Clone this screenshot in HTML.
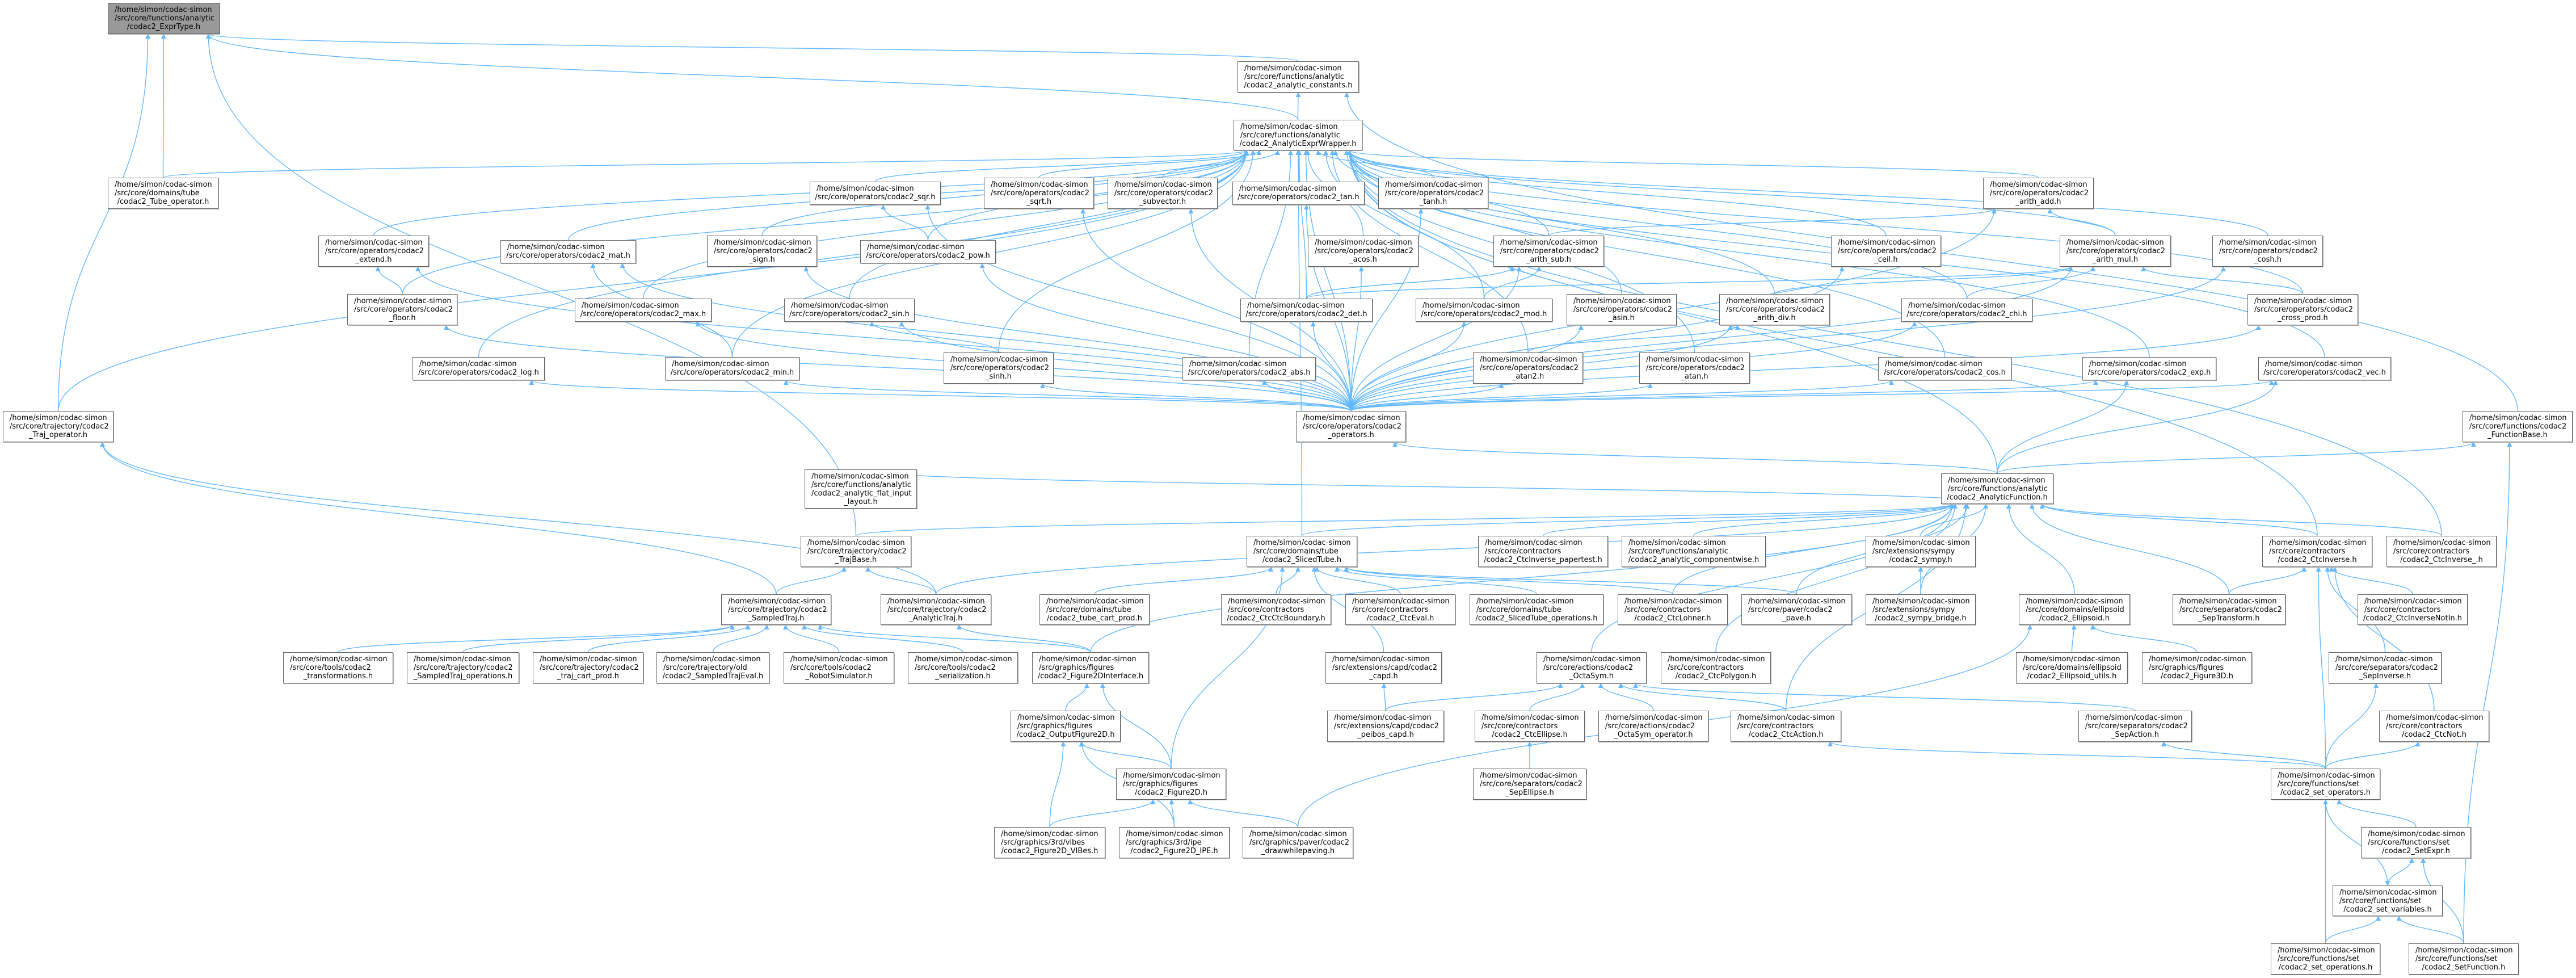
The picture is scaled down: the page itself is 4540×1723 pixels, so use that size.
<!DOCTYPE html>
<html><head><meta charset="utf-8">
<style>
html,body{margin:0;padding:0;background:#fff}
body{width:4540px;height:1723px;position:relative;overflow:hidden}
.n{position:absolute;box-sizing:border-box;border:1px solid #666;background:#fff;font:13px/15px "DejaVu Sans","Liberation Sans",sans-serif;color:#000;padding:4px 0 0 11px;white-space:nowrap;box-shadow:1px 1px 0 #aaa}
.n .c{text-align:center;margin-left:-11px}
.g{background:#999}
svg{position:absolute;left:0;top:0}
</style></head><body>
<svg id="s" width="4540" height="1723"><defs><marker id="a" viewBox="0 0 10 10" refX="9" refY="5" markerWidth="9" markerHeight="9" markerUnits="userSpaceOnUse" orient="auto"><path d="M0,0L10,5L0,10z" fill="#63b8ff"/></marker></defs></svg>

<div class="n g" id="expr" style="left:190px;top:5px;width:197px;height:55px">/home/simon/codac-simon<br>/src/core/functions/analytic<div class="c">/codac2_ExprType.h</div></div>
<div class="n" id="const" style="left:2181px;top:108px;width:214px;height:55px">/home/simon/codac-simon<br>/src/core/functions/analytic<div class="c">/codac2_analytic_constants.h</div></div>
<div class="n" id="wrap" style="left:2174px;top:211px;width:227px;height:54px">/home/simon/codac-simon<br>/src/core/functions/analytic<div class="c">/codac2_AnalyticExprWrapper.h</div></div>
<div class="n" id="tubeop" style="left:190px;top:313px;width:195px;height:55px">/home/simon/codac-simon<br>/src/core/domains/tube<div class="c">/codac2_Tube_operator.h</div></div>
<div class="n" id="sqr" style="left:1427px;top:320px;width:231px;height:41px">/home/simon/codac-simon<div class="c">/src/core/operators/codac2_sqr.h</div></div>
<div class="n" id="sqrt" style="left:1734px;top:313px;width:194px;height:55px">/home/simon/codac-simon<br>/src/core/operators/codac2<div class="c">_sqrt.h</div></div>
<div class="n" id="subvec" style="left:1952px;top:313px;width:194px;height:55px">/home/simon/codac-simon<br>/src/core/operators/codac2<div class="c">_subvector.h</div></div>
<div class="n" id="tan" style="left:2172px;top:320px;width:233px;height:41px">/home/simon/codac-simon<div class="c">/src/core/operators/codac2_tan.h</div></div>
<div class="n" id="tanh" style="left:2429px;top:313px;width:194px;height:55px">/home/simon/codac-simon<br>/src/core/operators/codac2<div class="c">_tanh.h</div></div>
<div class="n" id="add" style="left:3495px;top:313px;width:195px;height:55px">/home/simon/codac-simon<br>/src/core/operators/codac2<div class="c">_arith_add.h</div></div>
<div class="n" id="extend" style="left:561px;top:415px;width:195px;height:55px">/home/simon/codac-simon<br>/src/core/operators/codac2<div class="c">_extend.h</div></div>
<div class="n" id="mat" style="left:882px;top:423px;width:239px;height:41px">/home/simon/codac-simon<div class="c">/src/core/operators/codac2_mat.h</div></div>
<div class="n" id="sign" style="left:1246px;top:415px;width:194px;height:55px">/home/simon/codac-simon<br>/src/core/operators/codac2<div class="c">_sign.h</div></div>
<div class="n" id="pow" style="left:1516px;top:423px;width:239px;height:41px">/home/simon/codac-simon<div class="c">/src/core/operators/codac2_pow.h</div></div>
<div class="n" id="acos" style="left:2305px;top:415px;width:195px;height:55px">/home/simon/codac-simon<br>/src/core/operators/codac2<div class="c">_acos.h</div></div>
<div class="n" id="sub" style="left:2632px;top:415px;width:195px;height:55px">/home/simon/codac-simon<br>/src/core/operators/codac2<div class="c">_arith_sub.h</div></div>
<div class="n" id="ceil" style="left:3227px;top:415px;width:194px;height:55px">/home/simon/codac-simon<br>/src/core/operators/codac2<div class="c">_ceil.h</div></div>
<div class="n" id="mul" style="left:3630px;top:415px;width:196px;height:55px">/home/simon/codac-simon<br>/src/core/operators/codac2<div class="c">_arith_mul.h</div></div>
<div class="n" id="cosh" style="left:3899px;top:415px;width:195px;height:55px">/home/simon/codac-simon<br>/src/core/operators/codac2<div class="c">_cosh.h</div></div>
<div class="n" id="floor" style="left:612px;top:518px;width:194px;height:55px">/home/simon/codac-simon<br>/src/core/operators/codac2<div class="c">_floor.h</div></div>
<div class="n" id="max" style="left:1013px;top:526px;width:241px;height:41px">/home/simon/codac-simon<div class="c">/src/core/operators/codac2_max.h</div></div>
<div class="n" id="sin" style="left:1382px;top:526px;width:230px;height:41px">/home/simon/codac-simon<div class="c">/src/core/operators/codac2_sin.h</div></div>
<div class="n" id="det" style="left:2186px;top:526px;width:233px;height:41px">/home/simon/codac-simon<div class="c">/src/core/operators/codac2_det.h</div></div>
<div class="n" id="mod" style="left:2495px;top:526px;width:241px;height:41px">/home/simon/codac-simon<div class="c">/src/core/operators/codac2_mod.h</div></div>
<div class="n" id="asin" style="left:2761px;top:518px;width:194px;height:55px">/home/simon/codac-simon<br>/src/core/operators/codac2<div class="c">_asin.h</div></div>
<div class="n" id="div" style="left:3030px;top:518px;width:195px;height:55px">/home/simon/codac-simon<br>/src/core/operators/codac2<div class="c">_arith_div.h</div></div>
<div class="n" id="chi" style="left:3351px;top:526px;width:231px;height:41px">/home/simon/codac-simon<div class="c">/src/core/operators/codac2_chi.h</div></div>
<div class="n" id="cross" style="left:3961px;top:518px;width:195px;height:55px">/home/simon/codac-simon<br>/src/core/operators/codac2<div class="c">_cross_prod.h</div></div>
<div class="n" id="log" style="left:727px;top:629px;width:233px;height:41px">/home/simon/codac-simon<div class="c">/src/core/operators/codac2_log.h</div></div>
<div class="n" id="trajop" style="left:5px;top:724px;width:195px;height:55px">/home/simon/codac-simon<br>/src/core/trajectory/codac2<div class="c">_Traj_operator.h</div></div>
<div class="n" id="min" style="left:1172px;top:629px;width:237px;height:41px">/home/simon/codac-simon<div class="c">/src/core/operators/codac2_min.h</div></div>
<div class="n" id="sinh" style="left:1663px;top:621px;width:194px;height:55px">/home/simon/codac-simon<br>/src/core/operators/codac2<div class="c">_sinh.h</div></div>
<div class="n" id="abs" style="left:2084px;top:629px;width:235px;height:41px">/home/simon/codac-simon<div class="c">/src/core/operators/codac2_abs.h</div></div>
<div class="n" id="atan2" style="left:2596px;top:621px;width:194px;height:55px">/home/simon/codac-simon<br>/src/core/operators/codac2<div class="c">_atan2.h</div></div>
<div class="n" id="atan" style="left:2889px;top:621px;width:195px;height:55px">/home/simon/codac-simon<br>/src/core/operators/codac2<div class="c">_atan.h</div></div>
<div class="n" id="cos" style="left:3310px;top:629px;width:235px;height:41px">/home/simon/codac-simon<div class="c">/src/core/operators/codac2_cos.h</div></div>
<div class="n" id="exp" style="left:3670px;top:629px;width:236px;height:41px">/home/simon/codac-simon<div class="c">/src/core/operators/codac2_exp.h</div></div>
<div class="n" id="vec" style="left:3980px;top:629px;width:234px;height:41px">/home/simon/codac-simon<div class="c">/src/core/operators/codac2_vec.h</div></div>
<div class="n" id="ops" style="left:2284px;top:724px;width:194px;height:55px">/home/simon/codac-simon<br>/src/core/operators/codac2<div class="c">_operators.h</div></div>
<div class="n" id="fbase" style="left:4340px;top:724px;width:194px;height:55px">/home/simon/codac-simon<br>/src/core/functions/codac2<div class="c">_FunctionBase.h</div></div>
<div class="n" id="flat" style="left:1418px;top:827px;width:198px;height:69px">/home/simon/codac-simon<br>/src/core/functions/analytic<br>/codac2_analytic_flat_input<div class="c">_layout.h</div></div>
<div class="n" id="af" style="left:3421px;top:834px;width:198px;height:54px">/home/simon/codac-simon<br>/src/core/functions/analytic<div class="c">/codac2_AnalyticFunction.h</div></div>
<div class="n" id="trajbase" style="left:1411px;top:944px;width:195px;height:55px">/home/simon/codac-simon<br>/src/core/trajectory/codac2<div class="c">_TrajBase.h</div></div>
<div class="n" id="sliced" style="left:2197px;top:944px;width:195px;height:55px">/home/simon/codac-simon<br>/src/core/domains/tube<div class="c">/codac2_SlicedTube.h</div></div>
<div class="n" id="paper" style="left:2605px;top:944px;width:229px;height:55px">/home/simon/codac-simon<br>/src/core/contractors<div class="c">/codac2_CtcInverse_papertest.h</div></div>
<div class="n" id="compw" style="left:2858px;top:944px;width:254px;height:55px">/home/simon/codac-simon<br>/src/core/functions/analytic<div class="c">/codac2_analytic_componentwise.h</div></div>
<div class="n" id="sympy" style="left:3288px;top:944px;width:194px;height:55px">/home/simon/codac-simon<br>/src/extensions/sympy<div class="c">/codac2_sympy.h</div></div>
<div class="n" id="ctcinv" style="left:3987px;top:944px;width:194px;height:55px">/home/simon/codac-simon<br>/src/core/contractors<div class="c">/codac2_CtcInverse.h</div></div>
<div class="n" id="ctcinv_" style="left:4206px;top:944px;width:194px;height:55px">/home/simon/codac-simon<br>/src/core/contractors<div class="c">/codac2_CtcInverse_.h</div></div>
<div class="n" id="sampled" style="left:1271px;top:1047px;width:194px;height:54px">/home/simon/codac-simon<br>/src/core/trajectory/codac2<div class="c">_SampledTraj.h</div></div>
<div class="n" id="atraj" style="left:1552px;top:1047px;width:195px;height:54px">/home/simon/codac-simon<br>/src/core/trajectory/codac2<div class="c">_AnalyticTraj.h</div></div>
<div class="n" id="tubecart" style="left:1832px;top:1047px;width:194px;height:54px">/home/simon/codac-simon<br>/src/core/domains/tube<div class="c">/codac2_tube_cart_prod.h</div></div>
<div class="n" id="ctcbound" style="left:2152px;top:1047px;width:194px;height:54px">/home/simon/codac-simon<br>/src/core/contractors<div class="c">/codac2_CtcCtcBoundary.h</div></div>
<div class="n" id="ctceval" style="left:2371px;top:1047px;width:194px;height:54px">/home/simon/codac-simon<br>/src/core/contractors<div class="c">/codac2_CtcEval.h</div></div>
<div class="n" id="stops" style="left:2590px;top:1047px;width:236px;height:54px">/home/simon/codac-simon<br>/src/core/domains/tube<div class="c">/codac2_SlicedTube_operations.h</div></div>
<div class="n" id="lohner" style="left:2851px;top:1047px;width:194px;height:54px">/home/simon/codac-simon<br>/src/core/contractors<div class="c">/codac2_CtcLohner.h</div></div>
<div class="n" id="pave" style="left:3069px;top:1047px;width:195px;height:54px">/home/simon/codac-simon<br>/src/core/paver/codac2<div class="c">_pave.h</div></div>
<div class="n" id="bridge" style="left:3288px;top:1047px;width:194px;height:54px">/home/simon/codac-simon<br>/src/extensions/sympy<div class="c">/codac2_sympy_bridge.h</div></div>
<div class="n" id="ell" style="left:3558px;top:1047px;width:196px;height:54px">/home/simon/codac-simon<br>/src/core/domains/ellipsoid<div class="c">/codac2_Ellipsoid.h</div></div>
<div class="n" id="septr" style="left:3829px;top:1047px;width:199px;height:54px">/home/simon/codac-simon<br>/src/core/separators/codac2<div class="c">_SepTransform.h</div></div>
<div class="n" id="notin" style="left:4155px;top:1047px;width:194px;height:54px">/home/simon/codac-simon<br>/src/core/contractors<div class="c">/codac2_CtcInverseNotIn.h</div></div>
<div class="n" id="transf" style="left:499px;top:1149px;width:194px;height:55px">/home/simon/codac-simon<br>/src/core/tools/codac2<div class="c">_transformations.h</div></div>
<div class="n" id="stop" style="left:717px;top:1149px;width:198px;height:55px">/home/simon/codac-simon<br>/src/core/trajectory/codac2<div class="c">_SampledTraj_operations.h</div></div>
<div class="n" id="tcart" style="left:939px;top:1149px;width:195px;height:55px">/home/simon/codac-simon<br>/src/core/trajectory/codac2<div class="c">_traj_cart_prod.h</div></div>
<div class="n" id="steval" style="left:1157px;top:1149px;width:199px;height:55px">/home/simon/codac-simon<br>/src/core/trajectory/old<div class="c">/codac2_SampledTrajEval.h</div></div>
<div class="n" id="robot" style="left:1381px;top:1149px;width:195px;height:55px">/home/simon/codac-simon<br>/src/core/tools/codac2<div class="c">_RobotSimulator.h</div></div>
<div class="n" id="serial" style="left:1600px;top:1149px;width:194px;height:55px">/home/simon/codac-simon<br>/src/core/tools/codac2<div class="c">_serialization.h</div></div>
<div class="n" id="f2di" style="left:1819px;top:1149px;width:206px;height:55px">/home/simon/codac-simon<br>/src/graphics/figures<div class="c">/codac2_Figure2DInterface.h</div></div>
<div class="n" id="capd" style="left:2336px;top:1149px;width:205px;height:55px">/home/simon/codac-simon<br>/src/extensions/capd/codac2<div class="c">_capd.h</div></div>
<div class="n" id="octa" style="left:2708px;top:1149px;width:194px;height:55px">/home/simon/codac-simon<br>/src/core/actions/codac2<div class="c">_OctaSym.h</div></div>
<div class="n" id="poly" style="left:2927px;top:1149px;width:194px;height:55px">/home/simon/codac-simon<br>/src/core/contractors<div class="c">/codac2_CtcPolygon.h</div></div>
<div class="n" id="ellu" style="left:3553px;top:1149px;width:197px;height:55px">/home/simon/codac-simon<br>/src/core/domains/ellipsoid<div class="c">/codac2_Ellipsoid_utils.h</div></div>
<div class="n" id="f3d" style="left:3775px;top:1149px;width:194px;height:55px">/home/simon/codac-simon<br>/src/graphics/figures<div class="c">/codac2_Figure3D.h</div></div>
<div class="n" id="sepinv" style="left:4104px;top:1149px;width:199px;height:55px">/home/simon/codac-simon<br>/src/core/separators/codac2<div class="c">_SepInverse.h</div></div>
<div class="n" id="of2d" style="left:1781px;top:1252px;width:194px;height:55px">/home/simon/codac-simon<br>/src/graphics/figures<div class="c">/codac2_OutputFigure2D.h</div></div>
<div class="n" id="peibos" style="left:2339px;top:1252px;width:206px;height:55px">/home/simon/codac-simon<br>/src/extensions/capd/codac2<div class="c">_peibos_capd.h</div></div>
<div class="n" id="ctcell" style="left:2599px;top:1252px;width:194px;height:55px">/home/simon/codac-simon<br>/src/core/contractors<div class="c">/codac2_CtcEllipse.h</div></div>
<div class="n" id="octaop" style="left:2817px;top:1252px;width:194px;height:55px">/home/simon/codac-simon<br>/src/core/actions/codac2<div class="c">_OctaSym_operator.h</div></div>
<div class="n" id="ctcact" style="left:3050px;top:1252px;width:195px;height:55px">/home/simon/codac-simon<br>/src/core/contractors<div class="c">/codac2_CtcAction.h</div></div>
<div class="n" id="sepact" style="left:3663px;top:1252px;width:200px;height:55px">/home/simon/codac-simon<br>/src/core/separators/codac2<div class="c">_SepAction.h</div></div>
<div class="n" id="ctcnot" style="left:4193px;top:1252px;width:194px;height:55px">/home/simon/codac-simon<br>/src/core/contractors<div class="c">/codac2_CtcNot.h</div></div>
<div class="n" id="f2d" style="left:1967px;top:1354px;width:194px;height:55px">/home/simon/codac-simon<br>/src/graphics/figures<div class="c">/codac2_Figure2D.h</div></div>
<div class="n" id="sepell" style="left:2596px;top:1354px;width:200px;height:55px">/home/simon/codac-simon<br>/src/core/separators/codac2<div class="c">_SepEllipse.h</div></div>
<div class="n" id="setops" style="left:4002px;top:1354px;width:193px;height:55px">/home/simon/codac-simon<br>/src/core/functions/set<div class="c">/codac2_set_operators.h</div></div>
<div class="n" id="vibes" style="left:1752px;top:1457px;width:196px;height:55px">/home/simon/codac-simon<br>/src/graphics/3rd/vibes<div class="c">/codac2_Figure2D_VIBes.h</div></div>
<div class="n" id="ipe" style="left:1972px;top:1457px;width:195px;height:55px">/home/simon/codac-simon<br>/src/graphics/3rd/ipe<div class="c">/codac2_Figure2D_IPE.h</div></div>
<div class="n" id="draw" style="left:2190px;top:1457px;width:195px;height:55px">/home/simon/codac-simon<br>/src/graphics/paver/codac2<div class="c">_drawwhilepaving.h</div></div>
<div class="n" id="setexpr" style="left:4161px;top:1457px;width:194px;height:55px">/home/simon/codac-simon<br>/src/core/functions/set<div class="c">/codac2_SetExpr.h</div></div>
<div class="n" id="setvars" style="left:4111px;top:1560px;width:194px;height:54px">/home/simon/codac-simon<br>/src/core/functions/set<div class="c">/codac2_set_variables.h</div></div>
<div class="n" id="setopsn" style="left:4002px;top:1662px;width:193px;height:55px">/home/simon/codac-simon<br>/src/core/functions/set<div class="c">/codac2_set_operations.h</div></div>
<div class="n" id="setfn" style="left:4245px;top:1662px;width:194px;height:55px">/home/simon/codac-simon<br>/src/core/functions/set<div class="c">/codac2_SetFunction.h</div></div>

<script>
(function(){
var E=[
["wrap","expr"],["const","expr"],["tubeop","expr"],["trajop","expr"],["trajbase","expr"],["wrap","const"],["fbase","const"],
["tubeop","wrap"],["sqr","wrap"],["sqrt","wrap"],["subvec","wrap"],["tan","wrap"],["tanh","wrap"],["add","wrap"],["extend","wrap"],["mat","wrap"],["sign","wrap"],["pow","wrap"],["acos","wrap"],["sub","wrap"],["ceil","wrap"],["mul","wrap"],["cosh","wrap"],["floor","wrap"],["max","wrap"],["sin","wrap"],["det","wrap"],["mod","wrap"],["asin","wrap"],["div","wrap"],["chi","wrap"],["cross","wrap"],["log","wrap"],["trajop","wrap"],["min","wrap"],["sinh","wrap"],["abs","wrap"],["atan2","wrap"],["atan","wrap"],["cos","wrap"],["exp","wrap"],["vec","wrap"],["ops","wrap"],["ctcinv_","wrap"],["ctcinv","wrap"],
["pow","sqr"],["mul","add"],["sub","add"],["div","mul"],["cross","mul"],["chi","mul"],["mod","sub"],["det","sub"],["det","mul"],["atan2","div"],["floor","extend"],["min","mat"],["sinh","sin"],
["ops","extend"],["ops","floor"],["ops","log"],["ops","mat"],["ops","max"],["ops","min"],["ops","sign"],["ops","sin"],["ops","sinh"],["ops","sqr"],["ops","pow"],["ops","sqrt"],["ops","subvec"],["ops","tan"],["ops","tanh"],["ops","acos"],["ops","sub"],["ops","det"],["ops","mod"],["ops","asin"],["ops","abs"],["ops","atan2"],["ops","atan"],["ops","div"],["ops","ceil"],["ops","chi"],["ops","cos"],["ops","exp"],["ops","vec"],["ops","mul"],["ops","add"],["ops","cosh"],["ops","cross"],
["af","ops"],["af","fbase"],["af","wrap"],["af","flat"],["af","vec"],["af","exp"],
["sampled","trajop"],["atraj","trajop"],["sampled","trajbase"],["atraj","trajbase"],["atraj","af"],["sliced","af"],["trajbase","af"],["sliced","wrap"],
["tubecart","sliced"],["ctcbound","sliced"],["ctceval","sliced"],["stops","sliced"],["lohner","sliced"],["pave","sliced"],
["paper","af"],["compw","af"],["sympy","af"],["ctcinv","af"],["ctcinv_","af"],["ell","af"],["septr","af"],["lohner","af"],["pave","af"],["bridge","sympy"],["bridge","af"],
["septr","ctcinv"],["notin","ctcinv"],["sepinv","ctcinv"],["setops","ctcinv"],["ctcnot","ctcinv"],
["transf","sampled"],["stop","sampled"],["tcart","sampled"],["steval","sampled"],["robot","sampled"],["serial","sampled"],["f2di","sampled"],["f2di","af"],["f2di","atraj"],["capd","sliced"],["octa","af"],["poly","af"],["ellu","ell"],["f3d","ell"],
["of2d","f2di"],["f2d","f2di"],["f2d","of2d"],["vibes","of2d"],["vibes","f2d"],["ipe","of2d"],["ipe","f2d"],["draw","f2d"],["f2d","sliced"],["draw","ell"],
["peibos","capd"],["peibos","octa"],["ctcell","octa"],["octaop","octa"],["ctcact","octa"],["sepact","octa"],["sepell","ctcell"],["ctcact","af"],
["setops","sepact"],["setops","sepinv"],["setops","ctcnot"],["setops","ctcact"],["setexpr","setops"],["setvars","setexpr"],["setops","setvars"],["setopsn","setops"],["setopsn","setvars"],["setfn","setvars"],["setfn","setexpr"],["setfn","fbase"]
];
function B(id){var e=document.getElementById(id);return{x:e.offsetLeft,y:e.offsetTop,w:e.offsetWidth,h:e.offsetHeight};}
var s=document.getElementById('s'),ns='http://www.w3.org/2000/svg',out='';
E.forEach(function(p){
 var a=B(p[0]),b=B(p[1]);
 var ac=a.x+a.w/2,bc=b.x+b.w/2;
 var sx,sy,ex,ey;
 if(a.y>b.y+b.h-5){
   sx=ac;sy=a.y;
   ex=bc+Math.max(-b.w*0.4,Math.min(b.w*0.4,(ac-bc)*0.15));ey=b.y+b.h;
   if(Math.abs(a.y-b.y)<60){ // same-ish row: side connect
     sy=a.y+a.h/2; sx=(ac<bc)?a.x+a.w:a.x; ey=b.y+b.h/2; ex=(ac<bc)?b.x:b.x+b.w;
   }
 } else {
   sx=ac;sy=a.y+a.h;ex=bc;ey=b.y;
 }
 var dy=(ey-sy)*0.5;
 out+='<path d="M'+sx+','+sy+' C'+sx+','+(sy+dy)+' '+ex+','+(ey-dy)+' '+ex+','+ey+'" fill="none" stroke="#63b8ff" stroke-width="1.4" marker-end="url(#a)"/>';
});
s.insertAdjacentHTML('beforeend',out);
})();
</script>
</body></html>
